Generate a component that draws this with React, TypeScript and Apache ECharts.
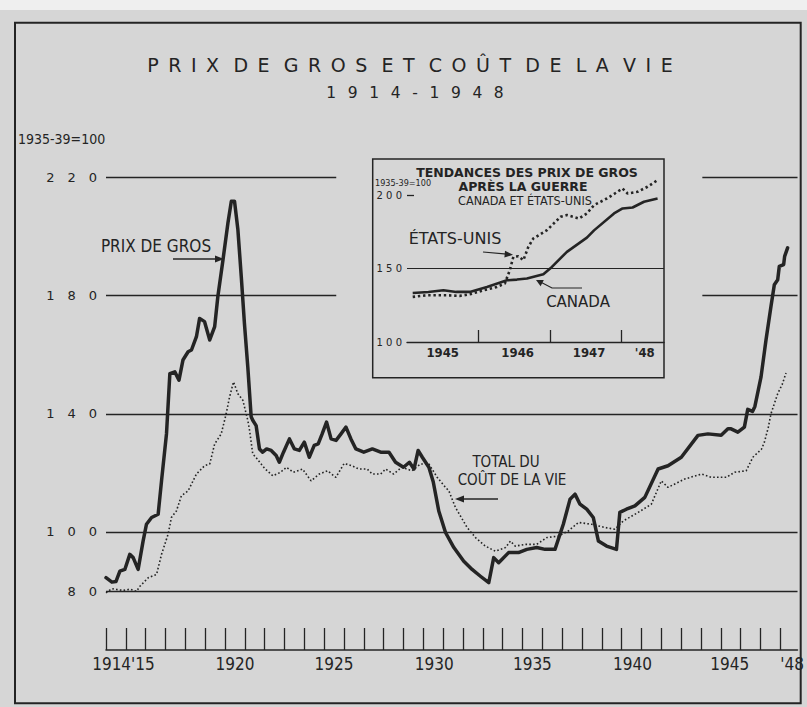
import React, { useEffect, useRef } from 'react';
import * as echarts from 'echarts';

// ---- Main chart data (1935-39 = 100) ----
const wholesaleYears = [
  1914.0, 1914.3, 1914.5, 1914.7, 1914.95, 1915.2, 1915.37, 1915.62, 1915.87, 1916.04,
  1916.3, 1916.63, 1916.8, 1917.05, 1917.22, 1917.47, 1917.68, 1917.88, 1918.14, 1918.31,
  1918.56, 1918.72, 1918.97, 1919.23, 1919.48, 1919.64, 1919.9, 1920.15, 1920.32, 1920.48,
  1920.65, 1920.82, 1920.98, 1921.15, 1921.32, 1921.4, 1921.57, 1921.74, 1921.9, 1922.1,
  1922.33, 1922.58, 1922.74, 1922.95, 1923.25, 1923.5, 1923.75, 1924.0, 1924.25, 1924.5,
  1924.7, 1924.9, 1925.12, 1925.35, 1925.6, 1925.85, 1926.1, 1926.35, 1926.6, 1927.0,
  1927.43, 1927.85, 1928.27, 1928.6, 1929.0, 1929.3, 1929.53, 1929.74, 1929.95, 1930.28,
  1930.5, 1930.78, 1931.12, 1931.54, 1932.04, 1932.46, 1932.88, 1933.3, 1933.55, 1933.8,
  1934.3, 1934.8, 1935.22, 1935.72, 1936.14, 1936.64, 1937.06, 1937.4, 1937.65, 1937.9,
  1938.24, 1938.57, 1938.83, 1939.24, 1939.74, 1939.91, 1940.24, 1940.67, 1941.17, 1941.84,
  1942.34, 1943.01, 1943.85, 1944.35, 1945.02, 1945.36, 1945.52, 1945.86, 1946.19, 1946.36,
  1946.6, 1946.72, 1947.03, 1947.28, 1947.53, 1947.7, 1947.87, 1947.95, 1948.17, 1948.22,
  1948.37,
];
const wholesaleValues = [
  84.5, 83.0, 83.2, 86.7, 87.3, 92.4, 91.3, 87.3, 96.9, 102.6,
  104.9, 106.0, 117.3, 133.2, 153.6, 154.2, 151.4, 158.2, 161.0, 161.6,
  166.1, 172.3, 171.2, 165.0, 169.5, 179.7, 192.2, 204.7, 212.0, 212.0,
  202.4, 186.5, 170.6, 155.9, 139.0, 137.8, 136.0, 128.1, 127.0, 128.1,
  127.6, 125.9, 123.6, 127.0, 131.5, 128.1, 127.6, 130.4, 125.3, 129.3,
  129.8, 133.2, 137.2, 131.5, 131.0, 133.2, 135.5, 131.5, 128.1, 127.0,
  128.1, 127.0, 127.0, 123.6, 121.9, 123.6, 121.3, 127.6, 125.3, 121.9,
  117.0, 107.1, 99.8, 94.7, 90.1, 87.3, 85.0, 82.8, 91.3, 89.6,
  93.0, 93.0, 94.1, 94.7, 94.1, 94.1, 102.6, 111.1, 112.8, 109.4,
  107.7, 104.9, 96.9, 95.2, 94.1, 106.6, 107.7, 108.8, 111.7, 121.3,
  122.4, 125.3, 132.7, 133.2, 132.7, 134.9, 134.9, 133.8, 135.5, 141.5,
  140.8, 142.5, 152.5, 165.0, 176.3, 183.7, 185.4, 189.9, 190.5, 193.3,
  196.2,
];

const costYears = [
  1914.0, 1914.3, 1914.54, 1914.87, 1915.2, 1915.54, 1915.71, 1916.13, 1916.55, 1916.8,
  1917.13, 1917.3, 1917.55, 1917.8, 1918.14, 1918.56, 1918.97, 1919.23, 1919.48, 1919.81,
  1920.06, 1920.23, 1920.43, 1920.65, 1920.9, 1921.15, 1921.24, 1921.4, 1921.55, 1921.75,
  1922.0, 1922.41, 1922.8, 1923.1, 1923.45, 1923.91, 1924.34, 1924.75, 1925.17, 1925.59,
  1926.01, 1926.4, 1926.75, 1927.17, 1927.43, 1927.85, 1928.1, 1928.5, 1928.92, 1929.43,
  1929.86, 1930.28, 1930.7, 1931.12, 1931.29, 1931.62, 1932.21, 1932.63, 1933.13, 1933.63,
  1934.14, 1934.39, 1934.64, 1935.14, 1935.72, 1936.23, 1936.81, 1937.31, 1937.82, 1938.49,
  1939.16, 1939.66, 1940.08, 1940.83, 1941.5, 1942.0, 1942.34, 1943.18, 1944.02, 1944.52,
  1945.28, 1945.7, 1946.28, 1946.62, 1947.05, 1947.2, 1947.4, 1947.53, 1947.87, 1948.1,
  1948.29,
];
const costValues = [
  79.4, 80.8, 80.5, 80.2, 80.6, 79.9, 81.6, 84.5, 85.6, 92.4,
  99.2, 104.9, 107.1, 112.2, 113.9, 119.6, 122.4, 123.0, 129.8, 133.2,
  140.0, 145.7, 150.8, 146.8, 144.6, 137.8, 134.4, 126.4, 125.3, 123.6,
  121.5, 119.0, 120.2, 121.9, 120.2, 121.3, 117.3, 119.6, 120.7, 118.5,
  123.2, 122.4, 121.3, 121.3, 119.6, 119.6, 121.3, 119.6, 121.9, 120.7,
  123.0, 123.0, 118.5, 115.1, 113.9, 108.3, 101.5, 98.1, 95.2, 93.5,
  94.7, 96.9, 95.2, 95.8, 95.8, 98.1, 98.6, 100.3, 103.2, 102.6,
  101.5, 100.9, 103.7, 106.6, 109.4, 117.3, 115.1, 117.9, 119.6, 118.5,
  118.5, 120.2, 120.7, 125.3, 128.0, 130.4, 135.5, 140.0, 146.8, 150.0,
  153.8,
];

// ---- Inset data: post-war wholesale prices ----
const canadaYears = [
  1945.08, 1945.3, 1945.51, 1945.69, 1945.88, 1946.12, 1946.4, 1946.54, 1946.68, 1946.91,
  1947.03, 1947.24, 1947.52, 1947.62, 1947.9, 1948.02, 1948.16, 1948.32, 1948.51,
];
const canadaValues = [
  133.4, 134.0, 135.2, 134.1, 134.1, 137.5, 142.0, 142.5, 143.2, 146.1,
  151.1, 161.4, 171.1, 176.0, 187.5, 190.9, 191.6, 195.5, 197.7,
];
const usYears = [
  1945.08, 1945.27, 1945.55, 1945.74, 1945.88, 1946.07, 1946.26, 1946.37, 1946.44, 1946.49,
  1946.56, 1946.63, 1946.7, 1946.77, 1946.96, 1947.15, 1947.24, 1947.41, 1947.52, 1947.62,
  1947.8, 1948.02, 1948.09, 1948.23, 1948.37, 1948.51,
];
const usValues = [
  130.7, 131.8, 131.8, 131.4, 132.5, 135.2, 137.5, 139.8, 148.9, 158.0,
  158.4, 155.7, 164.8, 170.5, 176.1, 185.2, 186.4, 184.1, 187.5, 193.2,
  197.7, 204.5, 201.1, 202.3, 205.7, 210.2,
];

// ---- Axes ----
const mainTickYears = [
  1914, 1915, 1916, 1917, 1918, 1919, 1920, 1921, 1922, 1923, 1924, 1925, 1926, 1927, 1928,
  1929, 1930, 1931, 1932, 1933, 1934, 1935, 1936, 1937, 1938, 1939, 1940, 1941, 1942, 1943,
  1944, 1945, 1946, 1947, 1948,
];
const mainLabelText = ["1914'15", '1920', '1925', '1930', '1935', '1940', '1945', "'48"];
const mainLabelPos = [1914.88, 1920.5, 1925.5, 1930.55, 1935.5, 1940.55, 1945.45, 1948.6];
const mainYLabels = [80, 100, 140, 180, 220];

const insetTickYears = [1946, 1947, 1948];
const insetLabelText = ['1945', '1946', '1947', "'48"];
const insetLabelPos = [1945.5, 1946.55, 1947.55, 1948.33];
const insetYLabels = [100, 150, 200];

const INK = '#242424';
const BG = '#d6d6d6';
const SANS = "'DejaVu Sans', sans-serif";
const COND = "'DejaVu Sans Condensed', 'DejaVu Sans', sans-serif";

// letter-spaced rendering of a text (the reference sets these in spaced capitals)
const EN = '\u2002';
const QUARTER = '\u2005';
const EM = '\u2003';
const spread = (s: string, gap: string, wordGap: string) =>
  s.split(' ').map((w) => w.split('').join(gap)).join(wordGap);

// Horizontal reference rows of the main panel: [value, fromYear, toYear]
const MAIN_MIN_X = 1914;
const MAIN_MAX_X = 1948.87;
const gridRows: [number, number, number][] = [
  [220, MAIN_MIN_X, 1925.61],
  [220, 1944.07, MAIN_MAX_X],
  [180, MAIN_MIN_X, 1925.61],
  [180, 1944.07, MAIN_MAX_X],
  [140, MAIN_MIN_X, MAIN_MAX_X],
  [100, MAIN_MIN_X, MAIN_MAX_X],
  [80, MAIN_MIN_X, MAIN_MAX_X],
];

const pairs = (xs: number[], ys: number[]) => xs.map((x, i) => [x, ys[i]]);

const txt = (text: string, x: number, y: number, font: string, size: number, extra: any = {}) => ({
  type: 'text',
  x,
  y,
  z: 20,
  style: {
    text,
    fill: extra.color || INK,
    font: `${extra.weight || 'normal'} ${size}px ${font}`,
    align: extra.align || 'center',
    verticalAlign: 'middle',
  },
});

export default function App() {
  const ref = useRef<HTMLDivElement>(null);

  useEffect(() => {
    document.body.style.margin = '0';
    if (!ref.current) return;
    const chart = echarts.init(ref.current, undefined, { renderer: 'svg' });

    const option: any = {
      animation: false,
      backgroundColor: BG,
      grid: [
        { left: 106, right: 7, top: 148, bottom: 116 },
        { left: 407, right: 143, top: 159, bottom: 365 },
      ],
      xAxis: [
        {
          type: 'value',
          gridIndex: 0,
          min: MAIN_MIN_X,
          max: MAIN_MAX_X,
          offset: 59,
          axisLine: { show: true, lineStyle: { color: INK, width: 1.5 } },
          axisTick: {
            show: true,
            inside: true,
            length: 22,
            customValues: mainTickYears,
            lineStyle: { color: INK, width: 1.3 },
          },
          axisLabel: {
            customValues: mainLabelPos,
            formatter: (v: number) => {
              const i = mainLabelPos.findIndex((p) => Math.abs(p - v) < 1e-6);
              return i >= 0 ? mainLabelText[i] : '';
            },
            margin: 5,
            color: INK,
            fontFamily: COND,
            fontSize: 17,
          },
          splitLine: { show: false },
        },
        {
          type: 'value',
          gridIndex: 1,
          min: 1945,
          max: 1948.6,
          axisLine: { show: true, lineStyle: { color: INK, width: 1.4 } },
          axisTick: {
            show: true,
            inside: true,
            length: 12,
            customValues: insetTickYears,
            lineStyle: { color: INK, width: 1.3 },
          },
          axisLabel: {
            customValues: insetLabelPos,
            formatter: (v: number) => {
              const i = insetLabelPos.findIndex((p) => Math.abs(p - v) < 1e-6);
              return i >= 0 ? insetLabelText[i] : '';
            },
            margin: 4,
            color: INK,
            fontFamily: COND,
            fontWeight: 'bold',
            fontSize: 13,
          },
          splitLine: { show: false },
        },
      ],
      yAxis: [
        {
          type: 'value',
          gridIndex: 0,
          min: 80,
          max: 230,
          axisLine: { show: false },
          axisTick: { show: false, customValues: mainYLabels },
          axisLabel: {
            customValues: mainYLabels,
            formatter: (v: number) => String(v).split('').join(EM),
            margin: 9,
            color: INK,
            fontFamily: SANS,
            fontSize: 13,
          },
          splitLine: { show: false },
        },
        {
          type: 'value',
          gridIndex: 1,
          min: 100,
          max: 224.6,
          axisLine: { show: false },
          axisTick: {
            show: true,
            inside: true,
            length: 7,
            customValues: [200],
            lineStyle: { color: INK, width: 1.3 },
          },
          axisLabel: {
            customValues: insetYLabels,
            formatter: (v: number) => String(v).split('').join(' '),
            margin: 5,
            color: INK,
            fontFamily: SANS,
            fontSize: 10,
          },
          splitLine: { show: false },
        },
      ],
      series: [
        {
          name: 'Prix de gros',
          type: 'line',
          xAxisIndex: 0,
          yAxisIndex: 0,
          data: pairs(wholesaleYears, wholesaleValues),
          showSymbol: false,
          clip: false,
          z: 4,
          lineStyle: { color: INK, width: 3.5, join: 'round', cap: 'round' },
          markLine: {
            silent: true,
            z: 1,
            symbol: ['none', 'none'],
            label: { show: false },
            lineStyle: { color: INK, width: 1.3, type: 'solid' },
            data: gridRows.map(([v, a, b]) => [{ coord: [a, v] }, { coord: [b, v] }]),
          },
        },
        {
          name: 'Coût de la vie',
          type: 'line',
          xAxisIndex: 0,
          yAxisIndex: 0,
          data: pairs(costYears, costValues),
          showSymbol: false,
          clip: false,
          z: 3,
          lineStyle: { color: INK, width: 1.6, type: [1.6, 2.2] },
        },
        {
          name: 'Canada',
          type: 'line',
          xAxisIndex: 1,
          yAxisIndex: 1,
          data: pairs(canadaYears, canadaValues),
          showSymbol: false,
          clip: false,
          z: 4,
          lineStyle: { color: INK, width: 2.6, join: 'round' },
          markLine: {
            silent: true,
            z: 1,
            symbol: ['none', 'none'],
            label: { show: false },
            lineStyle: { color: INK, width: 1.2, type: 'solid' },
            data: [{ yAxis: 150 }],
          },
        },
        {
          name: 'États-Unis',
          type: 'line',
          xAxisIndex: 1,
          yAxisIndex: 1,
          data: pairs(usYears, usValues),
          showSymbol: false,
          clip: false,
          z: 3,
          lineStyle: { color: INK, width: 2.6, type: [2.4, 2.8] },
        },
      ],
      graphic: {
        elements: [
          { type: 'rect', z: 0, shape: { x: 0, y: 0, width: 807, height: 10 }, style: { fill: '#efefef' } },
          {
            type: 'rect',
            z: 1,
            shape: { x: 15, y: 22.7, width: 785.7, height: 680.6 },
            style: { fill: 'none', stroke: INK, lineWidth: 2 },
          },
          {
            type: 'rect',
            z: 1,
            shape: { x: 372.7, y: 159, width: 291.3, height: 218.7 },
            style: { fill: 'none', stroke: INK, lineWidth: 1.5 },
          },
          txt(spread('PRIX DE GROS ET COÛT DE LA VIE', EN, EN + QUARTER), 410, 65, SANS, 19),
          txt(spread('1914-1948', EN + QUARTER, ''), 415, 93, SANS, 15.5),
          txt('1935-39=100', 18, 139, COND, 14, { align: 'left' }),
          txt('PRIX DE GROS', 156, 246, COND, 17),
          txt('TOTAL DU', 506, 462, COND, 15),
          txt('COÛT DE LA VIE', 512, 480, COND, 15),
          txt('TENDANCES DES PRIX DE GROS', 527, 172.5, SANS, 12.5, { weight: 'bold' }),
          txt('APRÈS LA GUERRE', 523, 186, SANS, 12.5, { weight: 'bold' }),
          txt('CANADA ET ÉTATS-UNIS', 525, 200, COND, 12.5),
          txt('1935-39=100', 375, 183, COND, 9, { align: 'left' }),
          txt('ÉTATS-UNIS', 455, 238, SANS, 16),
          txt('CANADA', 578, 302, SANS, 15),
          // arrows
          {
            type: 'polyline', z: 20,
            shape: { points: [[173, 259], [217, 259]] },
            style: { stroke: INK, lineWidth: 1.4, fill: 'none' },
          },
          {
            type: 'polygon', z: 20,
            shape: { points: [[224, 259], [215, 255.5], [215, 262.5]] },
            style: { fill: INK },
          },
          {
            type: 'polyline', z: 20,
            shape: { points: [[498, 499], [461, 499]] },
            style: { stroke: INK, lineWidth: 1.4, fill: 'none' },
          },
          {
            type: 'polygon', z: 20,
            shape: { points: [[455, 499], [464, 495.5], [464, 502.5]] },
            style: { fill: INK },
          },
          {
            type: 'polyline', z: 20,
            shape: { points: [[483, 252], [507, 254.2]] },
            style: { stroke: INK, lineWidth: 1.2, fill: 'none' },
          },
          {
            type: 'polygon', z: 20,
            shape: { points: [[513, 254.8], [505, 250.8], [504.4, 257.6]] },
            style: { fill: INK },
          },
          {
            type: 'polyline', z: 20,
            shape: { points: [[582, 288], [552, 288], [541, 282.3]] },
            style: { stroke: INK, lineWidth: 1.2, fill: 'none' },
          },
          {
            type: 'polygon', z: 20,
            shape: { points: [[536, 280], [543.8, 280.1], [540.6, 286.3]] },
            style: { fill: INK },
          },
        ],
      },
    };

    chart.setOption(option);
    return () => chart.dispose();
  }, []);

  return <div ref={ref} style={{ width: 807, height: 707 }} />;
}
